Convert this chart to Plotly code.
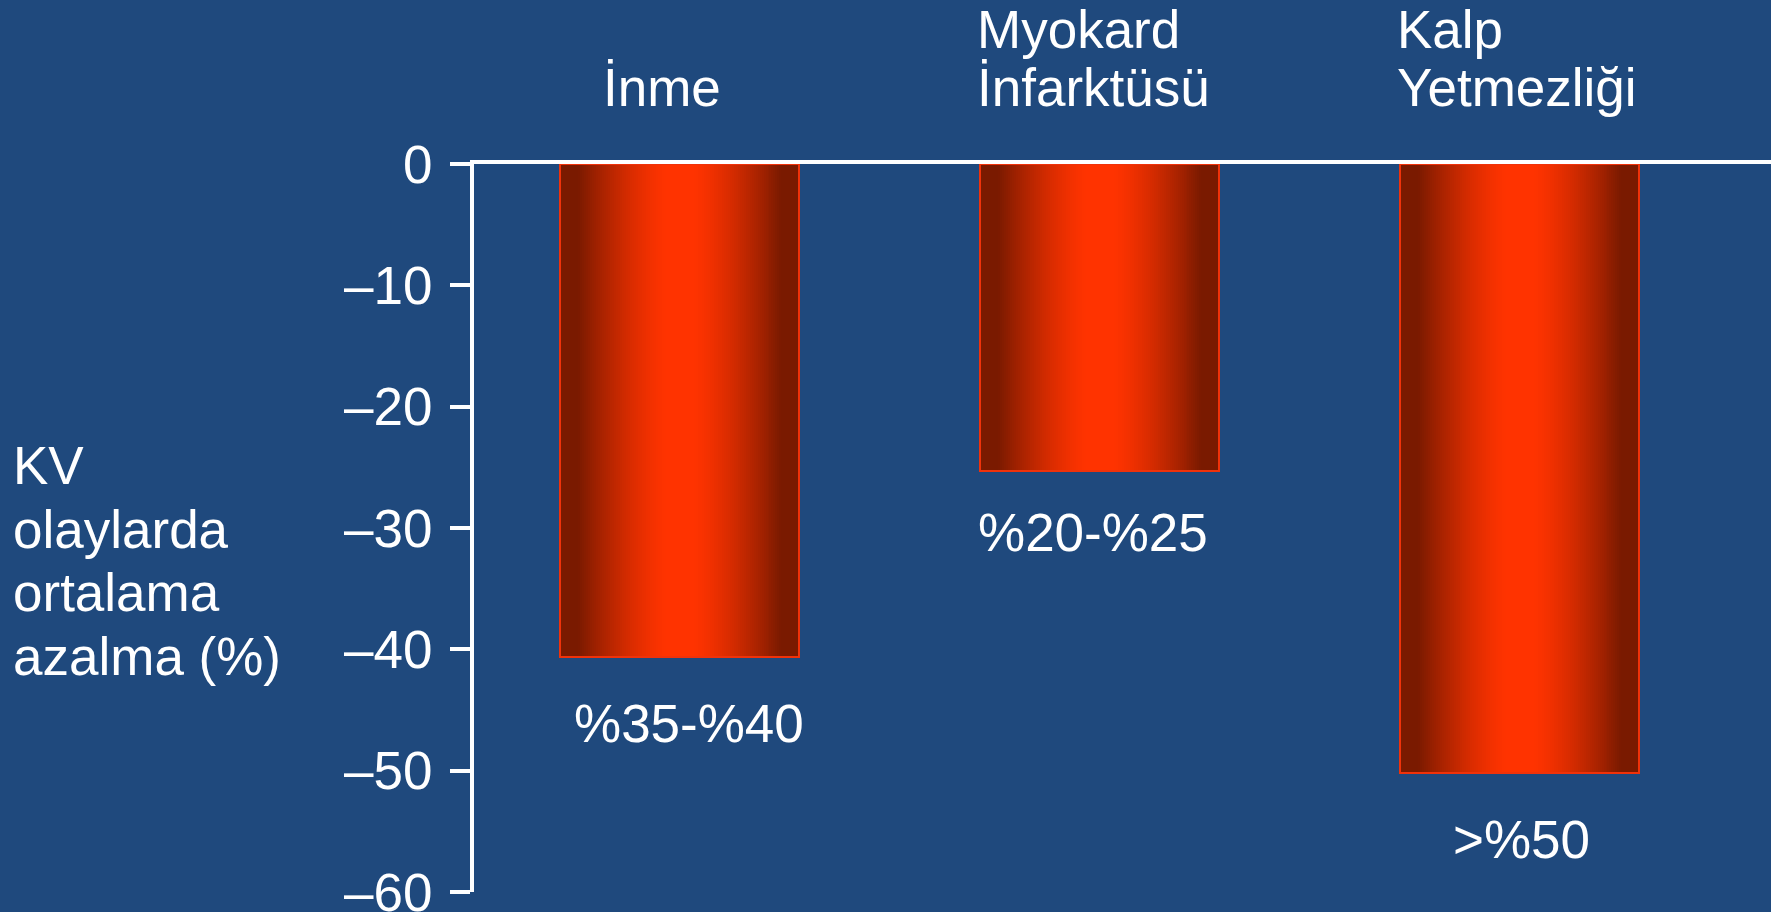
import plotly.graph_objects as go

# ---------------- data ----------------
categories = ["İnme", "Myokard<br>İnfarktüsü", "Kalp<br>Yetmezliği"]
values = [-40.6, -25.3, -50.2]
value_labels = ["%35-%40", "%20-%25", ">%50"]
y_ticks = [0, -10, -20, -30, -40, -50, -60]
y_tick_labels = ["0", "–10", "–20", "–30", "–40", "–50", "–60"]
y_title = "KV<br>olaylarda<br>ortalama<br>azalma (%)"

# ---------------- style / layout constants ----------------
BG = "#1F497D"
BRIGHT = (255, 51, 0)
DARK = (122, 26, 0)
OUTLINE = "rgb(240,50,10)"
FONT = "Liberation Sans, Arial, sans-serif"
FS = 53
DESC = 0.212 * FS + 1          # baseline -> bottom of annotation box
W, H = 1771, 912
M_L, M_R, M_T, M_B = 474, 0, 164, 20
PH = H - M_T - M_B
PW = W - M_L - M_R
BAR_W = 0.57
N_STEPS = 60
X_RANGE = [-0.4898, 2.5983]
VAL_XSHIFT = [9, -7, 2]
VAL_YSHIFT = [-35, -30, -35]
CAT_BASELINES_2 = [48.5, 107]
CAT_BASELINE_1 = 107
TITLE_BASELINES = [485, 548.5, 612, 675.5]


def py(px):
    """pixel row -> paper y"""
    return (H - M_B - px) / PH


def px_x(px):
    return (px - M_L) / PW


def grad_color(f):  # f: 0 at bar centre, 1 at bar edge
    lo, hi = 0.10, 0.85
    t = min(max((f - lo) / (hi - lo), 0.0), 1.0) ** 1.4
    r, g, b = [round(BRIGHT[i] + (DARK[i] - BRIGHT[i]) * t) for i in range(3)]
    return f"rgb({r},{g},{b})"


x = list(range(len(categories)))
tfont = dict(size=FS, color="white", family=FONT)

fig = go.Figure()
for k in range(N_STEPS):
    f = 1 - k / N_STEPS
    fig.add_trace(go.Bar(
        x=x, y=values, width=[BAR_W * f] * len(x),
        marker=dict(color=grad_color(f - 0.5 / N_STEPS), line=dict(width=0)),
        hoverinfo="skip", showlegend=False,
    ))
# outline
fig.add_trace(go.Bar(
    x=x, y=values, width=[BAR_W] * len(x),
    marker=dict(color="rgba(0,0,0,0)", line=dict(color=OUTLINE, width=2)),
    hoverinfo="skip", showlegend=False,
))

annotations = []
# category labels above the chart
for i, cat in enumerate(categories):
    lines = cat.split("<br>")
    if len(lines) == 1:
        annotations.append(dict(
            text=lines[0], x=i, xref="x", xanchor="center", xshift=-18,
            y=py(CAT_BASELINE_1 + DESC), yref="paper", yanchor="bottom",
            showarrow=False, font=tfont))
    else:
        for ln, bl in zip(lines, CAT_BASELINES_2):
            annotations.append(dict(
                text=ln, x=i, xref="x", xanchor="left", xshift=-125,
                y=py(bl + DESC), yref="paper", yanchor="bottom",
                showarrow=False, font=tfont))
# value labels under bars
for i, (v, lab) in enumerate(zip(values, value_labels)):
    annotations.append(dict(
        text=lab, x=i, xref="x", xanchor="center", xshift=VAL_XSHIFT[i],
        y=v, yref="y", yanchor="top", yshift=VAL_YSHIFT[i],
        showarrow=False, font=tfont))
# y axis title (one annotation per line)
for ln, bl in zip(y_title.split("<br>"), TITLE_BASELINES):
    annotations.append(dict(
        text=ln, x=px_x(11), xref="paper", xanchor="left", align="left",
        y=py(bl + DESC), yref="paper", yanchor="bottom",
        showarrow=False, font=tfont))

fig.update_layout(
    width=W, height=H,
    margin=dict(l=M_L, r=M_R, t=M_T, b=M_B, pad=0, autoexpand=False),
    paper_bgcolor=BG, plot_bgcolor=BG,
    barmode="overlay", bargap=0,
    showlegend=False,
    font=dict(family=FONT, color="white", size=FS),
    xaxis=dict(range=X_RANGE, side="top", showline=True, linecolor="white",
               linewidth=4, showticklabels=False, ticks="", showgrid=False,
               zeroline=False, fixedrange=True, automargin=False),
    yaxis=dict(range=[-60, 0], tickvals=y_ticks, ticktext=y_tick_labels,
               ticks="outside", ticklen=20, tickwidth=4, tickcolor="white",
               showline=True, linecolor="white", linewidth=4,
               showgrid=False, zeroline=False, fixedrange=True,
               tickfont=tfont, ticklabelstandoff=7,
               ticklabeloverflow="allow", automargin=False),
    annotations=annotations,
)

fig.write_html("out.html")
